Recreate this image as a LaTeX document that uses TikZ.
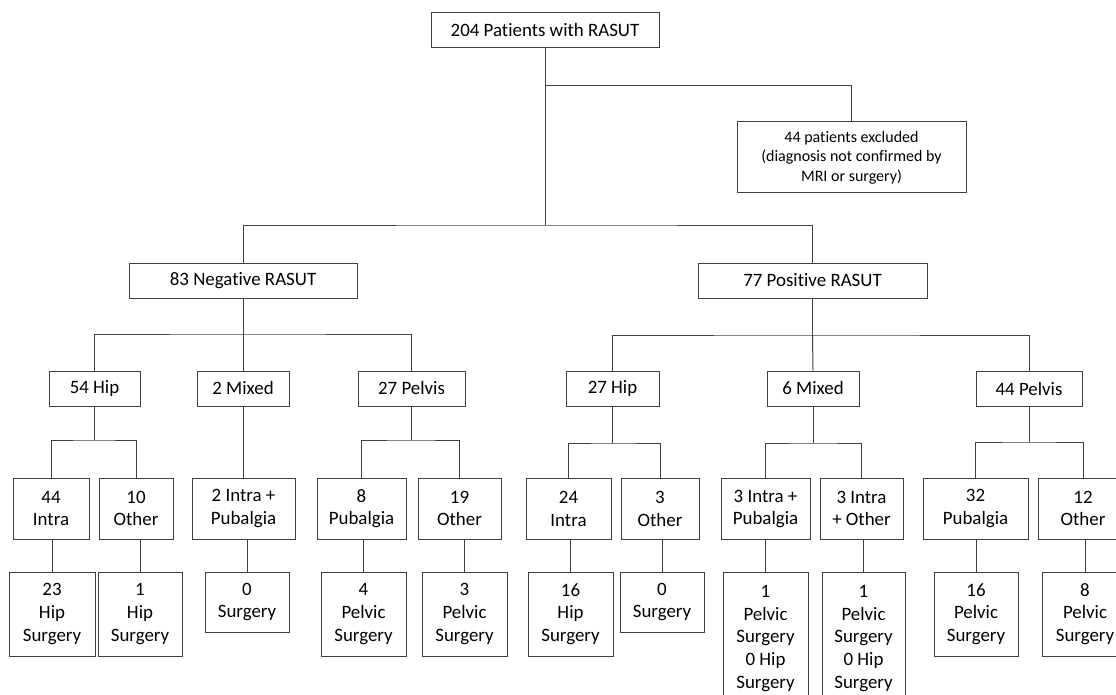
\documentclass[tikz,border=0pt]{standalone}
\usepackage{fontspec}
\setmainfont{Carlito}[Ligatures=NoCommon]
\definecolor{linec}{HTML}{404040}
\newcommand\Bx[6]{\node[box,minimum width=#4pt,minimum height=#5pt] (#1) at (#2,#3) {#6};}
\begin{document}
\begin{tikzpicture}[x=1pt,y=-1pt,
  box/.style={draw=linec,line width=1pt,inner sep=0pt,align=center,text=black,
    font=\fontsize{18.9}{22.6}\selectfont},
  smallbox/.style={font=\fontsize{16}{19.5}\selectfont},
  conn/.style={draw=linec,line width=1pt}]
\useasboundingbox (0,0) rectangle (1116,695);
% level 0 and exclusion
\Bx{top}{545}{30.5}{228}{35}{204 Patients with RASUT}
\node[box,smallbox,minimum width=229pt,minimum height=71pt] (excl) at (851.5,157.5)
  {44 patients excluded\\(diagnosis not confirmed by\\MRI or surgery)};
% level 1
\Bx{neg}{243}{280.5}{228}{35}{83 Negative RASUT}
\Bx{pos}{812.5}{280.5}{229}{35}{77 Positive RASUT}
% level 2
\Bx{nhip}{94.5}{388.5}{91}{35}{54 Hip}
\Bx{nmix}{243}{388.5}{92}{35}{2 Mixed}
\Bx{npel}{411.5}{388.5}{107}{35}{27 Pelvis}
\Bx{phip}{612.5}{389}{93}{35}{27 Hip}
\Bx{pmix}{813}{388.5}{92}{35}{6 Mixed}
\Bx{ppel}{1029}{389}{106}{35}{44 Pelvis}
% level 3
\Bx{a1}{51}{508.5}{76}{61}{44\\Intra}
\Bx{a2}{136}{508.5}{74}{61}{10\\Other}
\Bx{a3}{243.5}{508.5}{103}{61}{2 Intra +\\Pubalgia}
\Bx{a4}{361.5}{508.5}{89}{61}{8\\Pubalgia}
\Bx{a5}{459.5}{508.5}{83}{61}{19\\Other}
\Bx{b1}{568.5}{509}{85}{61}{24\\Intra}
\Bx{b2}{660}{509}{78}{61}{3\\Other}
\Bx{b3}{765.5}{509}{89}{61}{3 Intra +\\Pubalgia}
\Bx{b4}{861.5}{508.5}{83}{61}{3 Intra\\+ Other}
\Bx{b5}{975.5}{508.5}{105}{61}{32\\Pubalgia}
\Bx{b6}{1083}{508.5}{90}{61}{12\\Other}
% level 4
\Bx{c1}{52}{614}{86}{84}{23\\Hip\\Surgery}
\Bx{c2}{140}{614}{84}{84}{1\\Hip\\Surgery}
\Bx{c3}{247}{602}{84}{60}{0\\Surgery}
\Bx{c4}{363.5}{614}{85}{84}{4\\Pelvic\\Surgery}
\Bx{c5}{464.5}{614}{85}{84}{3\\Pelvic\\Surgery}
\Bx{d1}{570.5}{614}{85}{84}{16\\Hip\\Surgery}
\Bx{d2}{662}{602}{84}{60}{0\\Surgery}
\Bx{d3}{765.5}{638.5}{85}{133}{1\\Pelvic\\Surgery\\0 Hip\\Surgery}
\Bx{d4}{863.5}{638.5}{83}{133}{1\\Pelvic\\Surgery\\0 Hip\\Surgery}
\Bx{d5}{976}{614}{84}{84}{16\\Pelvic\\Surgery}
\Bx{d6}{1085}{614}{86}{84}{8\\Pelvic\\Surgery}
% junctions
\coordinate (j0) at (545,86);
\coordinate (j1) at (545,225);
\coordinate (jn) at (243,334);
\coordinate (jp) at (812.5,335);
\coordinate (jnh) at (94.5,440);
\coordinate (jnp) at (411.5,440);
\coordinate (jph) at (612.5,443);
\coordinate (jpm) at (813,443);
\coordinate (jpp) at (1029,442);
% connectors
\draw[conn] (top.south) -- (j1);
\draw[conn] (j0) -| (excl.north);
\draw[conn] (neg.north) |- (j1) -| (pos.north);
\draw[conn] (neg.south) -- (jn);
\draw[conn] (nhip.north) |- (jn) -| (npel.north);
\draw[conn] (jn) -- (nmix.north);
\draw[conn] (pos.south) -- (jp);
\draw[conn] (phip.north) |- (jp) -| (ppel.north);
\draw[conn] (jp) -- (pmix.north);
\draw[conn] (nhip.south) -- (jnh);
\draw[conn] (a1.north) |- (jnh) -| (a2.north);
\draw[conn] (nmix.south) -- (nmix.south |- a3.north);
\draw[conn] (npel.south) -- (jnp);
\draw[conn] (a4.north) |- (jnp) -| (a5.north);
\draw[conn] (phip.south) -- (jph);
\draw[conn] (b1.north) |- (jph) -| (b2.north);
\draw[conn] (pmix.south) -- (jpm);
\draw[conn] (b3.north) |- (jpm) -| (b4.north);
\draw[conn] (ppel.south) -- (jpp);
\draw[conn] (b5.north) |- (jpp) -| (b6.north);
\foreach \u/\l in {a1/c1,a2/c2,a3/c3,a4/c4,a5/c5,b1/d1,b2/d2,b3/d3,b4/d4,b5/d5,b6/d6}
  \draw[conn] (\l.north |- \u.south) -- (\l.north);
\end{tikzpicture}
\end{document}
